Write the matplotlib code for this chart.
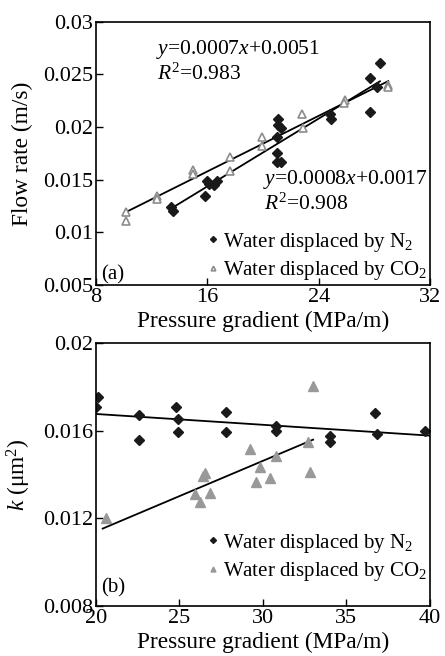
import numpy as np
import matplotlib
matplotlib.use("Agg")
import matplotlib.pyplot as plt

plt.rcParams['font.family'] = ['Liberation Serif', 'DejaVu Serif']
plt.rcParams['mathtext.fontset'] = 'custom'
plt.rcParams['mathtext.rm'] = 'Liberation Serif'
plt.rcParams['mathtext.it'] = 'Liberation Serif:italic'

# (a) flow rate vs pressure gradient
a_n2_x = [28.4, 27.7, 28.2, 27.7, 24.9, 24.8, 21.1, 21.1, 21.3, 21.0, 21.0, 21.0, 21.3,
          16.0, 16.7, 16.5, 16.1, 15.8, 13.4, 13.5]
a_n2_y = [0.0261, 0.0247, 0.0238, 0.0214, 0.0208, 0.0212, 0.0208, 0.0202, 0.0199, 0.0191,
          0.0175, 0.0167, 0.0167, 0.0149, 0.0149, 0.0145, 0.0146, 0.0135, 0.0124, 0.0120]
a_co2_x = [22.8, 22.9, 19.9, 19.9, 17.6, 17.6, 15.0, 15.0, 25.9, 25.8, 29.0, 29.0,
           12.4, 12.4, 10.15, 10.15]
a_co2_y = [0.0212, 0.0199, 0.0191, 0.0182, 0.0172, 0.0158, 0.0159, 0.0155, 0.0226, 0.0223,
           0.0240, 0.0238, 0.0135, 0.0132, 0.0119, 0.0111]

# (b) permeability vs pressure gradient
b_n2_x = [20.1, 20.0, 22.6, 22.6, 24.8, 24.9, 24.9, 27.8, 27.8, 30.8, 30.8, 34.0, 34.0,
          36.7, 36.8, 39.7]
b_n2_y = [0.01752, 0.01709, 0.01671, 0.01557, 0.01709, 0.01652, 0.01593, 0.01687, 0.01593,
          0.01623, 0.01600, 0.01577, 0.01550, 0.01679, 0.01585, 0.01600]
b_co2_x = [33.0, 32.7, 32.8, 29.2, 30.8, 29.8, 29.6, 30.4, 26.5, 26.4, 26.8, 25.9, 26.2, 20.6]
b_co2_y = [0.01804, 0.01550, 0.01413, 0.01515, 0.01484, 0.01436, 0.01367, 0.01383,
           0.01408, 0.01393, 0.01317, 0.01311, 0.01273, 0.0120]

eq_co2 = ["$y$=0.0007$x$+0.0051", "$R^2$=0.983"]
eq_n2 = ["$y$=0.0008$x$+0.0017", "$R^2$=0.908"]

lab_n2 = "Water displaced by N$_2$"
lab_co2 = "Water displaced by CO$_2$"

fig = plt.figure(figsize=(4.45, 6.56), dpi=100)
ax1 = fig.add_axes([0.2157, 0.5655, 0.7506, 0.4014])
ax2 = fig.add_axes([0.2157, 0.0762, 0.7506, 0.4009])

fs = 16.8   # axis labels
ls = 15     # legend
ts = 16     # ticks
es = 15.5   # equations
dia = dict(marker='D', color='#1a1a1a', markersize=5.5, linestyle='none')


def trend(ax, x, y, x0, x1):
    k, b = np.polyfit(x, y, 1)
    xs = np.array([x0, x1])
    ax.plot(xs, k * xs + b, color='black', lw=1.3, zorder=1)


# panel a
ax1.plot(a_n2_x, a_n2_y, label=lab_n2, **dia)
ax1.plot(a_co2_x, a_co2_y, marker='^', markerfacecolor='white', markeredgecolor='#8c8c8c',
         markeredgewidth=1.2, markersize=6, linestyle='none', label=lab_co2)
trend(ax1, a_co2_x, a_co2_y, min(a_co2_x), max(a_co2_x))
trend(ax1, a_n2_x, a_n2_y, min(a_n2_x), max(a_n2_x))
ax1.text(12.3, 0.02735, eq_co2[0], fontsize=es, va='center')
ax1.text(12.4, 0.02498, eq_co2[1], fontsize=es, va='center')
ax1.text(20.0, 0.01504, eq_n2[0], fontsize=es, va='center')
ax1.text(20.1, 0.01267, eq_n2[1], fontsize=es, va='center')
ax1.text(8.35, 0.0060, "(a)", fontsize=ls, va='center')
ax1.set_xlim(8, 32)
ax1.set_ylim(0.005, 0.03)
ax1.set_xticks([8, 16, 24, 32])
ax1.set_yticks([0.005, 0.01, 0.015, 0.02, 0.025, 0.03])
ax1.set_yticklabels(["0.005", "0.01", "0.015", "0.02", "0.025", "0.03"])
ax1.set_xlabel("Pressure gradient (MPa/m)", fontsize=fs, labelpad=3)
ax1.set_ylabel("Flow rate (m/s)", fontsize=fs, labelpad=7)
ax1.legend(loc='lower right', fontsize=ls, frameon=False, markerscale=0.55,
           handlelength=0.5, handletextpad=0.2, borderaxespad=0.0, borderpad=0.15,
           labelspacing=0.25)

# panel b
ax2.plot(b_n2_x, b_n2_y, label=lab_n2, **dia)
ax2.plot(b_co2_x, b_co2_y, marker='^', color='#999999', markersize=6.5, linestyle='none',
         label=lab_co2)
trend(ax2, b_n2_x, b_n2_y, 20, 40)
trend(ax2, b_co2_x, b_co2_y, 20.4, 33.0)
ax2.text(20.3, 0.00882, "(b)", fontsize=ls, va='center')
ax2.set_xlim(20, 40)
ax2.set_ylim(0.008, 0.02)
ax2.set_xticks([20, 25, 30, 35, 40])
ax2.set_yticks([0.008, 0.012, 0.016, 0.02])
ax2.set_yticklabels(["0.008", "0.012", "0.016", "0.02"])
ax2.set_xlabel("Pressure gradient (MPa/m)", fontsize=fs, labelpad=3)
ax2.set_ylabel("$k$ (μm$^2$)", fontsize=fs, labelpad=7)
ax2.legend(loc='lower right', bbox_to_anchor=(1.0, 0.076), fontsize=ls, frameon=False,
           markerscale=0.55, handlelength=0.5, handletextpad=0.2, borderaxespad=0.0,
           borderpad=0.15, labelspacing=0.25)

for ax in (ax1, ax2):
    ax.tick_params(direction='in', length=5, width=1, labelsize=ts, pad=2)
    for s in ax.spines.values():
        s.set_linewidth(1.2)

fig.savefig("out.png", dpi=100)
